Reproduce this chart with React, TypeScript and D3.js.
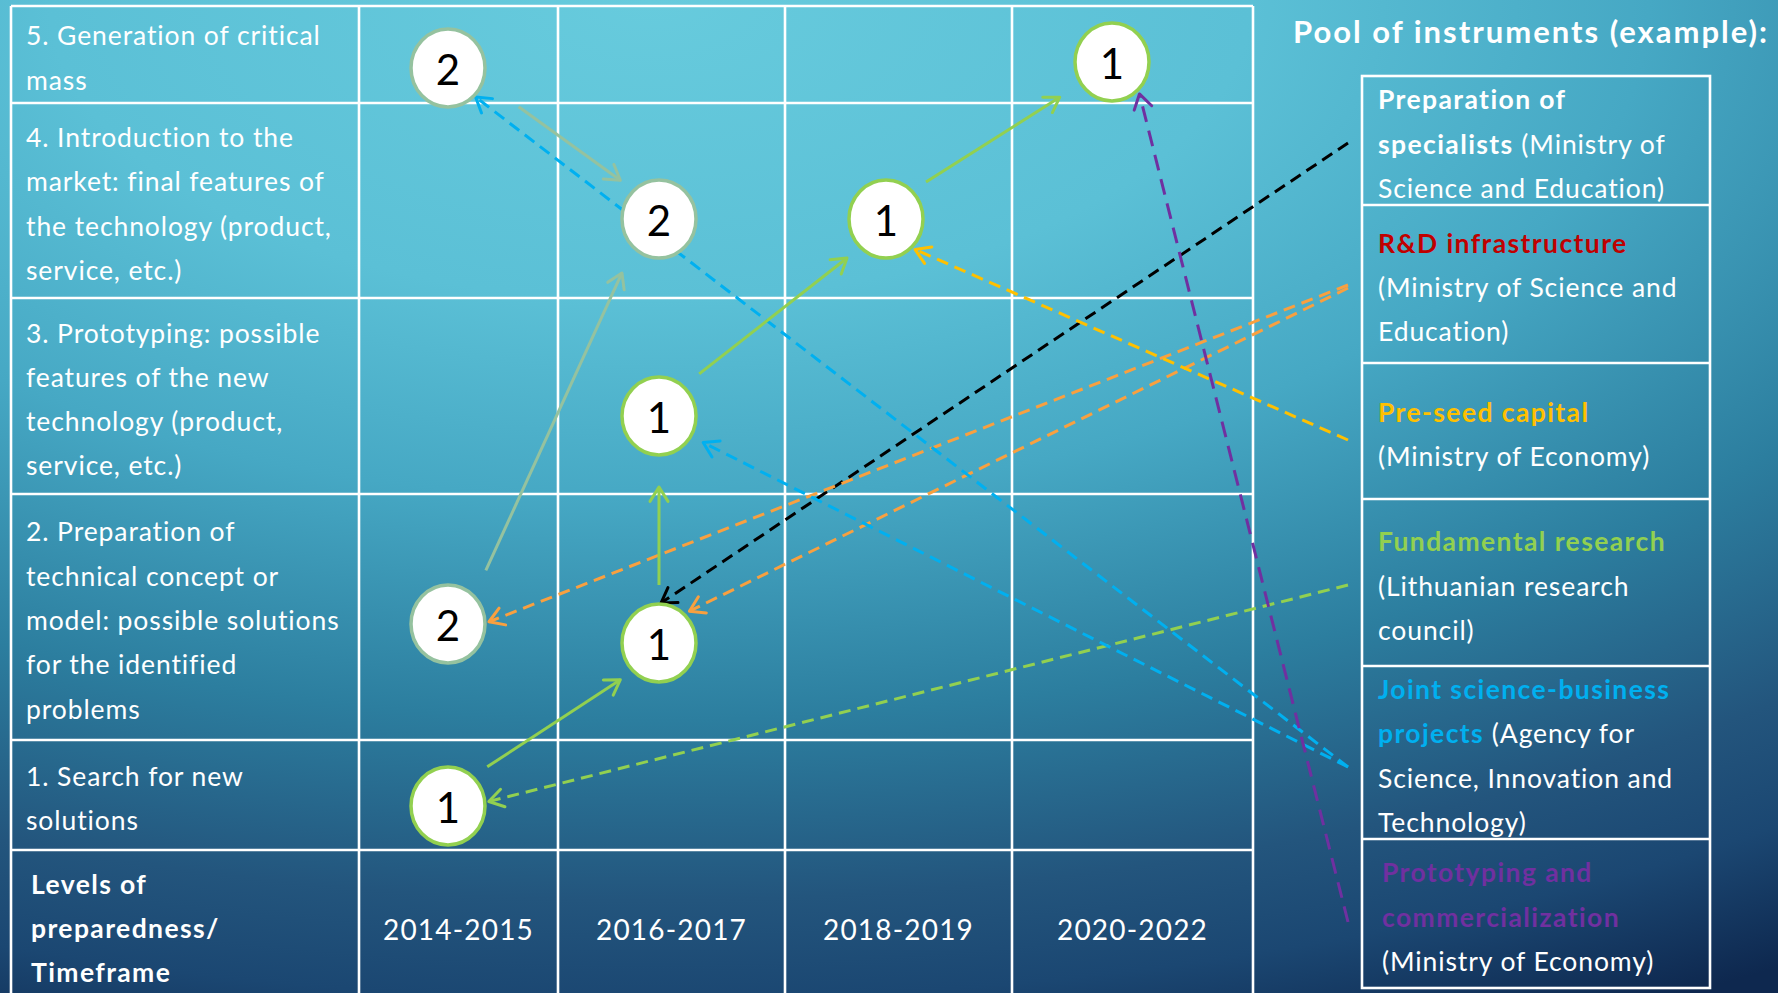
import React from "react";
import * as d3 from "d3";

// ---------------- data ----------------
const levelLabels: string[][] = [
  ["1. Search for new", "solutions"],
  ["2. Preparation of", "technical concept or", "model: possible solutions", "for the identified", "problems"],
  ["3. Prototyping: possible", "features of the new", "technology (product,", "service, etc.)"],
  ["4. Introduction to the", "market: final features of", "the technology (product,", "service, etc.)"],
  ["5. Generation of critical", "mass"],
];
const levels = [1, 2, 3, 4, 5];
const timeframes = ["2014-2015", "2016-2017", "2018-2019", "2020-2022"];
const headerLines = ["Levels of", "preparedness/", "Timeframe"];
const poolTitle = "Pool of instruments (example):";

const nodeIds = ["A", "B", "C", "D", "E", "F", "G", "H"];
const nodeLevels = [5, 5, 4, 4, 3, 2, 2, 1];
const nodePeriods = ["2014-2015", "2020-2022", "2016-2017", "2018-2019", "2016-2017", "2014-2015", "2016-2017", "2014-2015"];
const nodeCounts = [2, 1, 2, 1, 1, 2, 1, 1];
const nodeKinds = ["sage", "green", "sage", "green", "green", "sage", "green", "green"];

const flowFrom = ["A", "F", "H", "G", "E", "D"];
const flowTo = ["C", "C", "G", "E", "D", "B"];
const flowKinds = ["sage", "sage", "green", "green", "green", "green"];

type Seg = [string, boolean];
const instrumentLines: Seg[][][] = [
  [[["Preparation of", true]], [["specialists", true], [" (Ministry of", false]], [["Science and Education)", false]]],
  [[["R&D infrastructure", true]], [["(Ministry of Science and", false]], [["Education)", false]]],
  [[["Pre-seed capital", true]], [["(Ministry of Economy)", false]]],
  [[["Fundamental research", true]], [["(Lithuanian research", false]], [["council)", false]]],
  [
    [["Joint science-business", true]],
    [["projects", true], [" (Agency for", false]],
    [["Science, Innovation and", false]],
    [["Technology)", false]],
  ],
  [[["Prototyping and", true]], [["commercialization", true]], [["(Ministry of Economy)", false]]],
];
const instrumentTitleColors = ["#ffffff", "#c00000", "#ffc000", "#92d050", "#00b0f0", "#7030a0"];
const instrumentLinkColors = ["#000000", "#f9a03f", "#ffc000", "#92d050", "#00b0f0", "#7030a0"];

const linkInstrument = [0, 1, 1, 2, 3, 4, 4, 5];
const linkTarget = ["G", "F", "G", "D", "H", "A", "E", "B"];

// ---------------- layout ----------------
const W = 1778;
const H = 993;
const colEdges = [11, 359, 558, 785, 1012, 1253];
const rowEdges = [6, 103, 298, 494, 740, 850, 1000]; // level5..level1, header
const boxX0 = 1362;
const boxX1 = 1710;
const boxEdges = [76, 205, 363, 499, 666, 839, 988];
const lineH = 44.3;
const FONT = "Lato, 'Open Sans', 'Noto Sans', sans-serif";
const TXT = 26.5;
const LS = 0.9;
const kindColor: Record<string, string> = { sage: "#95c29f", green: "#92d050" };
const RX = 37;
const RY = 39;
const nodeNudge = [3, -3, 0, 0, 0, -9, 10, 0];
// [startGap, endGap, startPerp, endPerp]
const flowGaps = [
  [80, 54, -9.6, -9],
  [65, 65, 8.8, -7.9],
  [55, 53, -7, 5.4],
  [58, 71, 0, 0],
  [58, 55, -5.5, 3.9],
  [54, 63, -7.6, -0.9],
];
const linkSourceDy = [2.5, 1, 4, 9, 2.5, 14.5, 14.5, 8.5];
const linkAnchor = [
  [-87, 1],
  [-3, 4],
  [-45, 6],
  [45, 4],
  [-6, 4],
  [45, 2],
  [30, 14],
  [48, 4],
];
const linkX = 1348;

const xNode = d3.scaleOrdinal<string, number>().domain(timeframes).range([448, 659, 886, 1112]);
const yNode = d3.scaleOrdinal<number, number>().domain(levels).range([806, 633, 416, 219, 65]);
const rowOfLevel = d3.scaleOrdinal<number, number>().domain(levels).range([4, 3, 2, 1, 0]);

function nodePos(id: string) {
  const i = nodeIds.indexOf(id);
  return { x: xNode(nodePeriods[i]), y: yNode(nodeLevels[i]) + nodeNudge[i] };
}

function headPath(tx: number, ty: number, ux: number, uy: number, L = 17, angDeg = 32) {
  const a = (angDeg * Math.PI) / 180;
  const r = (x: number, y: number, t: number) => [x * Math.cos(t) - y * Math.sin(t), x * Math.sin(t) + y * Math.cos(t)];
  const [ax, ay] = r(ux, uy, a);
  const [bx, by] = r(ux, uy, -a);
  return `M${tx - L * ax},${ty - L * ay}L${tx},${ty}L${tx - L * bx},${ty - L * by}`;
}

export default function App() {
  const line = d3.line();

  const flows = flowFrom.map((f, i) => {
    const s = nodePos(f);
    const t = nodePos(flowTo[i]);
    const dx = t.x - s.x;
    const dy = t.y - s.y;
    const len = Math.hypot(dx, dy);
    const ux = dx / len;
    const uy = dy / len;
    const nx = -uy;
    const ny = ux;
    const [g0, g1, o0, o1] = flowGaps[i];
    const p0: [number, number] = [s.x + ux * g0 + nx * o0, s.y + uy * g0 + ny * o0];
    const p1: [number, number] = [t.x - ux * g1 + nx * o1, t.y - uy * g1 + ny * o1];
    const ddx = p1[0] - p0[0];
    const ddy = p1[1] - p0[1];
    const l2 = Math.hypot(ddx, ddy);
    return { p0, p1, ux: ddx / l2, uy: ddy / l2, color: kindColor[flowKinds[i]] };
  });

  const links = linkInstrument.map((ins, i) => {
    const boxCenter = (boxEdges[ins] + boxEdges[ins + 1]) / 2;
    const p0: [number, number] = [linkX, boxCenter + linkSourceDy[i]];
    const t = nodePos(linkTarget[i]);
    const [ang, gap] = linkAnchor[i];
    const a = (ang * Math.PI) / 180;
    const p1: [number, number] = [t.x + (RX + gap) * Math.cos(a), t.y + (RY + gap) * Math.sin(a)];
    const dx = p1[0] - p0[0];
    const dy = p1[1] - p0[1];
    const len = Math.hypot(dx, dy);
    return { p0, p1, ux: dx / len, uy: dy / len, color: instrumentLinkColors[ins], purple: ins === 5 };
  });

  return (
    <svg
      width={W}
      height={H}
      viewBox={`0 0 ${W} ${H}`}
      style={{ position: "absolute", left: 0, top: 0, display: "block" }}
      fontFamily={FONT}
    >
      <defs>
        <radialGradient
          id="bg"
          gradientUnits="userSpaceOnUse"
          cx={0}
          cy={0}
          r={1}
          gradientTransform="translate(650,0) scale(2240,1120)"
        >
          <stop offset="0" stopColor="#67cbdd" />
          <stop offset="0.268" stopColor="#5bc0d6" />
          <stop offset="0.446" stopColor="#46a8c4" />
          <stop offset="0.643" stopColor="#2c7e9f" />
          <stop offset="0.804" stopColor="#23557d" />
          <stop offset="0.893" stopColor="#1b4772" />
          <stop offset="1" stopColor="#0e284f" />
        </radialGradient>
      </defs>
      <rect x={0} y={0} width={W} height={H} fill="url(#bg)" />

      {/* grid */}
      <g stroke="#ffffff" strokeWidth={2.6}>
        {colEdges.map((x, i) => (
          <line key={"c" + i} x1={x} x2={x} y1={rowEdges[0]} y2={H + 5} />
        ))}
        {rowEdges.slice(0, 6).map((y, i) => (
          <line key={"r" + i} x1={colEdges[0]} x2={colEdges[colEdges.length - 1]} y1={y} y2={y} />
        ))}
      </g>

      {/* row labels */}
      {levels.map((lv) => {
        const r = rowOfLevel(lv);
        const cy = (rowEdges[r] + rowEdges[r + 1]) / 2 + 3;
        const lines = levelLabels[lv - 1];
        const y0 = cy - ((lines.length - 1) * lineH) / 2;
        return (
          <text key={"lv" + lv} fill="#ffffff" fontSize={TXT} letterSpacing={LS} dominantBaseline="central">
            {lines.map((t, j) => (
              <tspan key={j} x={26} y={y0 + j * lineH}>
                {t}
              </tspan>
            ))}
          </text>
        );
      })}

      {/* header */}
      <text fill="#ffffff" fontSize={TXT} fontWeight={700} letterSpacing={1.4} dominantBaseline="central">
        {headerLines.map((t, j) => (
          <tspan key={j} x={31} y={928 + (j - 1) * lineH}>
            {t}
          </tspan>
        ))}
      </text>
      {timeframes.map((tf, i) => (
        <text
          key={tf}
          x={(colEdges[i + 1] + colEdges[i + 2]) / 2}
          y={929}
          fill="#ffffff"
          fontSize={28}
          letterSpacing={1.2}
          textAnchor="middle"
          dominantBaseline="central"
        >
          {tf}
        </text>
      ))}

      {/* pool title */}
      <text
        x={1293}
        y={31}
        fill="#ffffff"
        fontSize={31}
        fontWeight={700}
        dominantBaseline="central"
        textLength={474}
        lengthAdjust="spacing"
      >
        {poolTitle}
      </text>

      {/* instrument boxes */}
      <g stroke="#ffffff" strokeWidth={2.6} fill="none">
        <rect x={boxX0} y={boxEdges[0]} width={boxX1 - boxX0} height={boxEdges[6] - boxEdges[0]} />
        {boxEdges.slice(1, 6).map((y, i) => (
          <line key={i} x1={boxX0} x2={boxX1} y1={y} y2={y} />
        ))}
      </g>
      {instrumentLines.map((lines, k) => {
        const cy = (boxEdges[k] + boxEdges[k + 1]) / 2 + 3;
        const y0 = cy - ((lines.length - 1) * lineH) / 2;
        const x = k === 5 ? 1382 : 1378;
        return (
          <text key={"ins" + k} fontSize={TXT} dominantBaseline="central" style={{ whiteSpace: "pre" }}>
            {lines.map((segs, j) => (
              <tspan key={j} x={x} y={y0 + j * lineH}>
                {segs.map(([t, b], m) => (
                  <tspan
                    key={m}
                    fontWeight={b ? 700 : 400}
                    fill={b ? instrumentTitleColors[k] : "#ffffff"}
                    letterSpacing={b ? 1.4 : LS}
                  >
                    {t}
                  </tspan>
                ))}
              </tspan>
            ))}
          </text>
        );
      })}

      {/* dashed instrument links */}
      {links.map((l, i) => (
        <g key={"lk" + i} stroke={l.color} strokeWidth={3} fill="none">
          <path d={line([l.p0, l.p1]) || ""} strokeDasharray={l.purple ? "16 9" : "12 7"} />
          <path d={headPath(l.p1[0], l.p1[1], l.ux, l.uy)} strokeLinecap="round" strokeLinejoin="round" />
        </g>
      ))}

      {/* solid flow arrows */}
      {flows.map((f, i) => (
        <g key={"fl" + i} stroke={f.color} strokeWidth={3} fill="none">
          <path d={line([f.p0, f.p1]) || ""} />
          <path d={headPath(f.p1[0], f.p1[1], f.ux, f.uy)} strokeLinecap="round" strokeLinejoin="round" />
        </g>
      ))}

      {/* nodes */}
      {nodeIds.map((id, i) => {
        const p = nodePos(id);
        return (
          <g key={id}>
            <ellipse cx={p.x} cy={p.y} rx={RX} ry={RY} fill="#ffffff" stroke={kindColor[nodeKinds[i]]} strokeWidth={3.5} />
            <text
              x={p.x}
              y={p.y + 1}
              fill="#000000"
              fontSize={42}
              textAnchor="middle"
              dominantBaseline="central"
            >
              {nodeCounts[i]}
            </text>
          </g>
        );
      })}
    </svg>
  );
}
